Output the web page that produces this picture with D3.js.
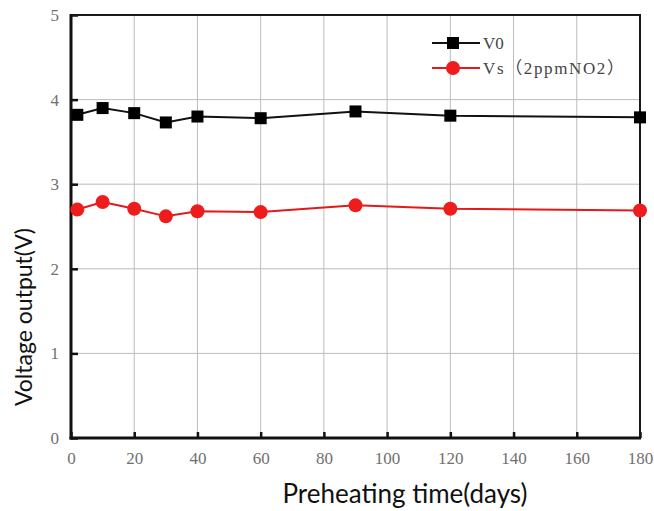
<!DOCTYPE html>
<html><head><meta charset="utf-8">
<script src="https://cdn.jsdelivr.net/npm/d3@7"></script>
<style>body{margin:0;background:#fff}</style>
</head><body>
<svg id="c" width="654" height="511"></svg>
<script>
const days = [2, 10, 20, 30, 40, 60, 90, 120, 180];
const v0 = [3.82, 3.90, 3.84, 3.73, 3.80, 3.78, 3.86, 3.81, 3.79];
const vs = [2.70, 2.79, 2.71, 2.62, 2.68, 2.67, 2.75, 2.71, 2.69];
const xTicks = [0, 20, 40, 60, 80, 100, 120, 140, 160, 180];
const yTicks = [0, 1, 2, 3, 4, 5];
const seriesNames = [["V0"], ["Vs", "\uFF08", "2ppmNO2", "\uFF09"]];

const svg = d3.select("#c");
const L = 71, R = 640, T = 15, B = 438;
const x = d3.scaleLinear().domain([0, 180]).range([L, R]);
const y = d3.scaleLinear().domain([0, 5]).range([B, T]);
const serif = "'Liberation Serif', 'DejaVu Serif', serif";

// grid
svg.append("g").selectAll("line").data(xTicks.slice(1, -1)).join("line")
  .attr("x1", d => x(d)).attr("x2", d => x(d)).attr("y1", T).attr("y2", B)
  .attr("stroke", "#bcbcbc").attr("stroke-width", 1);
svg.append("g").selectAll("line").data(yTicks.slice(1, -1)).join("line")
  .attr("x1", L).attr("x2", R).attr("y1", d => y(d)).attr("y2", d => y(d))
  .attr("stroke", "#bcbcbc").attr("stroke-width", 1);

// axes
const xa = svg.append("g").attr("transform", `translate(0,${B})`)
  .call(d3.axisBottom(x).tickValues(xTicks).tickFormat(d3.format("d")).tickSizeInner(-6).tickSizeOuter(0).tickPadding(14));
const ya = svg.append("g").attr("transform", `translate(${L},0)`)
  .call(d3.axisLeft(y).tickValues(yTicks).tickFormat(d3.format("d")).tickSizeInner(-7).tickSizeOuter(0).tickPadding(12));
[xa, ya].forEach(g => {
  g.attr("font-family", null);
  g.select(".domain").remove();
  g.selectAll(".tick line").attr("stroke", "#111").attr("stroke-width", 2.5);
  g.selectAll("text").style("font-family", serif).style("font-size", "17px").attr("fill", "#707070");
});
// frame
svg.append("rect").attr("x", L).attr("y", T).attr("width", R - L).attr("height", B - T)
  .attr("fill", "none").attr("stroke", "#1a1a1a").attr("stroke-width", 2);
svg.append("line").attr("x1", L).attr("x2", L).attr("y1", T - 1).attr("y2", B + 1.5).attr("stroke", "#111").attr("stroke-width", 3);
svg.append("line").attr("x1", L - 1.5).attr("x2", R + 1).attr("y1", B).attr("y2", B).attr("stroke", "#111").attr("stroke-width", 3);

const line = d3.line().x((d, i) => x(days[i])).y(d => y(d));
// series
svg.append("path").datum(v0).attr("d", line).attr("fill", "none").attr("stroke", "#111").attr("stroke-width", 2);
svg.append("g").selectAll("rect").data(v0).join("rect")
  .attr("x", (d, i) => x(days[i]) - 6).attr("y", d => y(d) - 6).attr("width", 12).attr("height", 12).attr("fill", "#000");
svg.append("path").datum(vs).attr("d", line).attr("fill", "none").attr("stroke", "#e3191a").attr("stroke-width", 2);
svg.append("g").selectAll("circle").data(vs).join("circle")
  .attr("cx", (d, i) => x(days[i])).attr("cy", d => y(d)).attr("r", 7).attr("fill", "#ee1c1c");

// legend
const lg = svg.append("g");
[43, 68].forEach((ly, i) => {
  const col = i === 0 ? "#111" : "#e3191a";
  lg.append("line").attr("x1", 432).attr("x2", 480).attr("y1", ly).attr("y2", ly).attr("stroke", col).attr("stroke-width", 2);
  if (i === 0) lg.append("rect").attr("x", 447).attr("y", ly - 6).attr("width", 12).attr("height", 12).attr("fill", "#000");
  else lg.append("circle").attr("cx", 453).attr("cy", ly).attr("r", 7).attr("fill", "#ee1c1c");
  const t = lg.append("text").attr("x", 483).attr("y", ly + 6)
    .style("font-family", serif).style("font-size", "17px").attr("fill", "#444");
  seriesNames[i].forEach(part => {
    const sp = t.append("tspan").text(part);
    if (part.length === 1 && part.charCodeAt(0) > 0xff00) sp.style("font-family", "'Noto Sans CJK SC'");
  });
  if (i === 1) t.attr("textLength", 141).attr("lengthAdjust", "spacing");
});

// titles
svg.append("text").attr("x", 405).attr("y", 503).attr("text-anchor", "middle")
  .style("font-family", "Lato").style("font-size", "26px").attr("fill", "#111").text("Preheating time(days)");
svg.append("text").attr("transform", "translate(32,317) rotate(-90)").attr("text-anchor", "middle")
  .style("font-family", "Lato").style("font-size", "23px").attr("fill", "#111").text("Voltage output(V)");
</script>
</body></html>
